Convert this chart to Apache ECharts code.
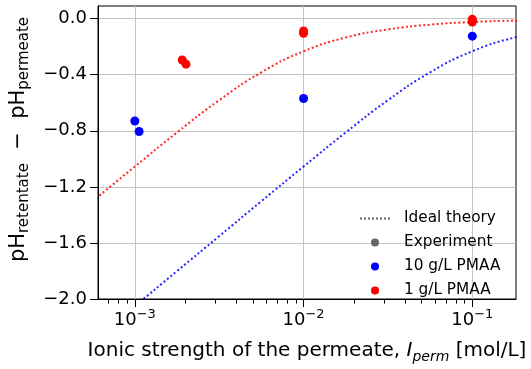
<!DOCTYPE html>
<html>
<head>
<meta charset="utf-8">
<script src="https://cdn.jsdelivr.net/npm/echarts@6/dist/echarts.min.js"></script>
<style>
  html, body { margin: 0; padding: 0; background: #ffffff; }
  #chart { width: 531px; height: 369px; }
</style>
</head>
<body>
<div id="chart"></div>
<script>
// Measured pH difference versus permeate ionic strength (mol/L)
const blueI   = [1.0e-3, 1.06e-3, 1.0e-2, 1.0e-1];
const blueDpH = [-0.73, -0.805, -0.57, -0.125];
const redI    = [1.91e-3, 2.01e-3, 1.0e-2, 1.0e-2, 1.0e-1, 1.0e-1, 1.0e-1];
const redDpH  = [-0.295, -0.325, -0.088, -0.104, -0.005, -0.015, -0.024];

// Ideal-theory curves, sampled every quarter decade of ionic strength
const theoryI       = [5.623e-4, 1.0e-3, 1.778e-3, 3.162e-3, 5.623e-3, 1.0e-2, 1.778e-2, 3.162e-2, 5.623e-2, 1.0e-1, 1.778e-1, 3.162e-1];
const theoryRedDpH  = [-1.302, -1.055, -0.812, -0.582, -0.383, -0.233, -0.135, -0.077, -0.043, -0.024, -0.014, -0.008];
const theoryBlueDpH = [-2.300, -2.051, -1.801, -1.552, -1.302, -1.055, -0.812, -0.582, -0.383, -0.233, -0.135, -0.077];

// Axis ticks
const yTicks  = [-2.0, -1.6, -1.2, -0.8, -0.4, 0.0];
const xMajor  = [1e-3, 1e-2, 1e-1];
const xMinor  = [7e-4, 8e-4, 9e-4, 2e-3, 3e-3, 4e-3, 5e-3, 6e-3, 7e-3, 8e-3, 9e-3,
                 2e-2, 3e-2, 4e-2, 5e-2, 6e-2, 7e-2, 8e-2, 9e-2];
const legendNames = ['Ideal theory', 'Experiment', '10 g/L PMAA', '1 g/L PMAA'];

const FONT = 'DejaVu Sans';
const pairs = (xs, ys) => xs.map((x, i) => [x, ys[i]]);
const xMin = 6.05e-4, xMax = 0.1815;

// Legend sample for the dotted theory line: eight small squares
const dottedIcon = 'path://' + [0, 4, 8, 12, 16, 20, 24, 28].map(x => 'M' + x + ',0h2v2h-2z').join('');

const chart = echarts.init(document.getElementById('chart'), null, { renderer: 'canvas' });

const dotted = (color) => ({ color: color, type: [2, 2.4], width: 2, opacity: 0.85 });

chart.setOption({
  animation: false,
  backgroundColor: '#ffffff',
  grid: {
    left: 98, right: 15, top: 6, bottom: 59,
    show: true, borderColor: '#000000', borderWidth: 1, backgroundColor: 'transparent'
  },
  xAxis: [
    {
      type: 'log', logBase: 10, min: xMin, max: xMax,
      name: '{n|Ionic strength of the permeate, }{i|I}{si|perm}{n| [mol/L]}',
      nameLocation: 'middle', nameGap: 39,
      nameTextStyle: {
        rich: {
          n:  { fontFamily: FONT, fontSize: 20, color: '#000', lineHeight: 26 },
          i:  { fontFamily: FONT, fontSize: 20, color: '#000', fontStyle: 'italic', lineHeight: 26 },
          si: { fontFamily: FONT, fontSize: 14, color: '#000', fontStyle: 'italic', lineHeight: 20, verticalAlign: 'bottom' }
        }
      },
      axisLine: { show: true, onZero: false, lineStyle: { color: '#000', width: 1 } },
      axisTick: { show: true, inside: false, length: 8, customValues: xMajor, lineStyle: { color: '#000', width: 1 } },
      axisLabel: {
        customValues: xMajor, margin: 9,
        formatter: (v) => '{b|10}{s|−' + Math.abs(Math.round(Math.log10(v))) + '}',
        rich: {
          b: { fontFamily: FONT, fontSize: 18, color: '#000', lineHeight: 24 },
          s: { fontFamily: FONT, fontSize: 13, color: '#000', lineHeight: 16, verticalAlign: 'top' }
        }
      },
      splitLine: { show: true, lineStyle: { color: '#c4c4c4', width: 1 } },
      minorTick: { show: false }, minorSplitLine: { show: false }
    },
    {
      type: 'log', logBase: 10, min: xMin, max: xMax, position: 'bottom',
      axisLine: { show: false, onZero: false },
      axisTick: { show: true, inside: false, length: 4.5, customValues: xMinor, lineStyle: { color: '#000', width: 1 } },
      axisLabel: { show: false },
      splitLine: { show: false }
    }
  ],
  yAxis: {
    type: 'value', min: -2.0, max: 0.09, interval: 0.4,
    name: '{n|pH}{s|retentate}{n|  −  pH}{s|permeate}',
    nameLocation: 'middle', nameRotate: 90, nameGap: 66,
    nameTextStyle: {
      padding: [0, 0, 0, 26],
      rich: {
        n: { fontFamily: FONT, fontSize: 21, color: '#000', lineHeight: 27 },
        s: { fontFamily: FONT, fontSize: 15, color: '#000', lineHeight: 21, verticalAlign: 'bottom' }
      }
    },
    axisLine: { show: true, onZero: false, lineStyle: { color: '#000', width: 1 } },
    axisTick: { show: true, inside: false, length: 8, customValues: yTicks, lineStyle: { color: '#000', width: 1 } },
    axisLabel: {
      customValues: yTicks, margin: 11,
      fontFamily: FONT, fontSize: 18, color: '#000',
      formatter: (v) => (v < -1e-9 ? '−' : '') + Math.abs(v).toFixed(1)
    },
    splitLine: { show: true, lineStyle: { color: '#c4c4c4', width: 1 } }
  },
  legend: {
    left: 355, top: 206, orient: 'vertical',
    itemWidth: 30, itemHeight: 8, itemGap: 9,
    data: [
      { name: legendNames[0], icon: dottedIcon },
      { name: legendNames[1], icon: 'circle' },
      { name: legendNames[2], icon: 'circle' },
      { name: legendNames[3], icon: 'circle' }
    ],
    textStyle: { fontFamily: FONT, fontSize: 15.3, color: '#000', padding: [0, 0, 0, 9] },
    selectedMode: false
  },
  series: [
    {
      name: 'Theory 1 g/L', type: 'line', data: pairs(theoryI, theoryRedDpH),
      showSymbol: false, symbol: 'none', smooth: 0.5,
      lineStyle: dotted('#ff0000'), clip: true, z: 2, silent: true
    },
    {
      name: 'Theory 10 g/L', type: 'line', data: pairs(theoryI, theoryBlueDpH),
      showSymbol: false, symbol: 'none', smooth: 0.5,
      lineStyle: dotted('#0000ff'), clip: true, z: 2, silent: true
    },
    {
      name: legendNames[0], type: 'line', data: [], symbol: 'none',
      itemStyle: { color: '#666666', opacity: 1 }, lineStyle: { color: '#666666', type: [2, 2.4], width: 1.5 }
    },
    {
      name: legendNames[1], type: 'scatter', data: [],
      itemStyle: { color: '#666666', opacity: 1 }
    },
    {
      name: legendNames[2], type: 'scatter', data: pairs(blueI, blueDpH),
      symbolSize: 9, itemStyle: { color: '#0000ff', opacity: 1 }, z: 3
    },
    {
      name: legendNames[3], type: 'scatter', data: pairs(redI, redDpH),
      symbolSize: 9, itemStyle: { color: '#ff0000', opacity: 1 }, z: 3
    }
  ]
});
</script>
</body>
</html>
